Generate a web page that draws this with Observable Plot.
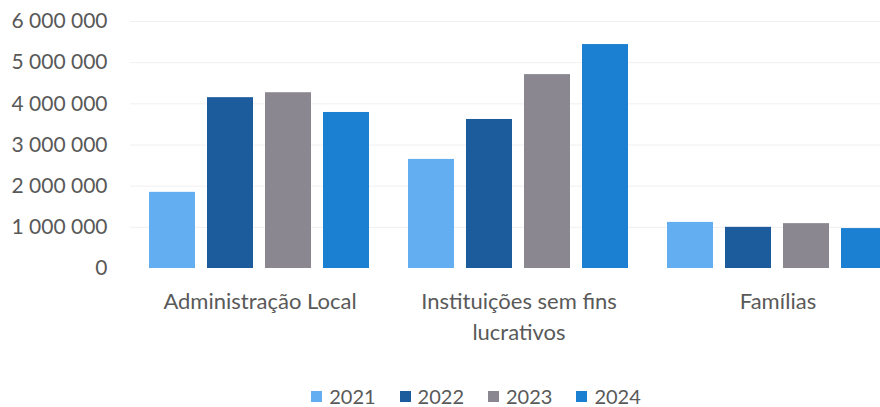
<!DOCTYPE html>
<html>
<head>
<meta charset="utf-8">
<script src="https://cdn.jsdelivr.net/npm/d3@7"></script>
<script src="https://cdn.jsdelivr.net/npm/@observablehq/plot@0.6"></script>
<style>
  html, body { margin: 0; padding: 0; background: #fff; overflow: hidden; }
  body { width: 880px; height: 407px; font-family: Lato, "Open Sans", sans-serif; }
  #legend { display: flex; justify-content: center; gap: 24px; padding-left: 72px; margin-top: 36px; font-size: 20px; color: #595959; line-height: 1; }
  #legend .item { display: flex; align-items: center; gap: 7px; }
  #legend .sw { width: 11px; height: 11px; display: inline-block; }
</style>
</head>
<body>
<div id="chart"></div>
<div id="legend"></div>
<script>
const categories = ["Administração Local", "Instituições sem fins lucrativos", "Famílias"];
const categoryLabels = ["Administração Local", "Instituições sem fins\nlucrativos", "Famílias"];
const years = ["2021", "2022", "2023", "2024"];
const values2021 = [1850000, 2650000, 1120000];
const values2022 = [4150000, 3620000, 1000000];
const values2023 = [4270000, 4710000, 1090000];
const values2024 = [3790000, 5440000, 970000];
const yTicks = [0, 1000000, 2000000, 3000000, 4000000, 5000000, 6000000];
const colors = ["#62aef0", "#1d5c9c", "#8a8790", "#1c80d2"];

const series = [values2021, values2022, values2023, values2024];
const data = [];
categories.forEach((c, i) => {
  years.forEach((y, j) => data.push({category: c, year: y, value: series[j][i]}));
});

const fmt = v => d3.format(",")(v).replace(/,/g, " ");

const chart = Plot.plot({
  width: 880,
  height: 350,
  marginLeft: 129,
  marginRight: -27,
  marginTop: 21,
  marginBottom: 82,
  style: {fontFamily: "Lato, 'Open Sans', sans-serif", fontSize: "21px", color: "#595959", background: "#fff"},
  fx: {domain: categories, padding: 0, axis: null},
  x: {domain: years, axis: null, paddingInner: 0.2, paddingOuter: 0.3},
  y: {domain: [0, 6000000], ticks: yTicks, tickFormat: fmt, tickSize: 0, tickPadding: 23, label: null},
  color: {domain: years, range: colors},
  marks: [
    Plot.ruleY(yTicks.slice(1), {stroke: "#f0f0f0", strokeWidth: 1}),
    Plot.barY(data, {fx: "category", x: "year", y: "value", fill: "year"}),
    Plot.text(categories, {fx: d => d, text: (d, i) => categoryLabels[i], frameAnchor: "bottom", dy: 19, lineAnchor: "top", lineHeight: 1.4, fill: "#595959", fontSize: 22})
  ]
});
document.getElementById("chart").appendChild(chart);

const legend = document.getElementById("legend");
years.forEach((y, i) => {
  const item = document.createElement("span");
  item.className = "item";
  const sw = document.createElement("span");
  sw.className = "sw";
  sw.style.background = colors[i];
  const t = document.createElement("span");
  t.textContent = y;
  item.appendChild(sw);
  item.appendChild(t);
  legend.appendChild(item);
});
</script>
</body>
</html>
